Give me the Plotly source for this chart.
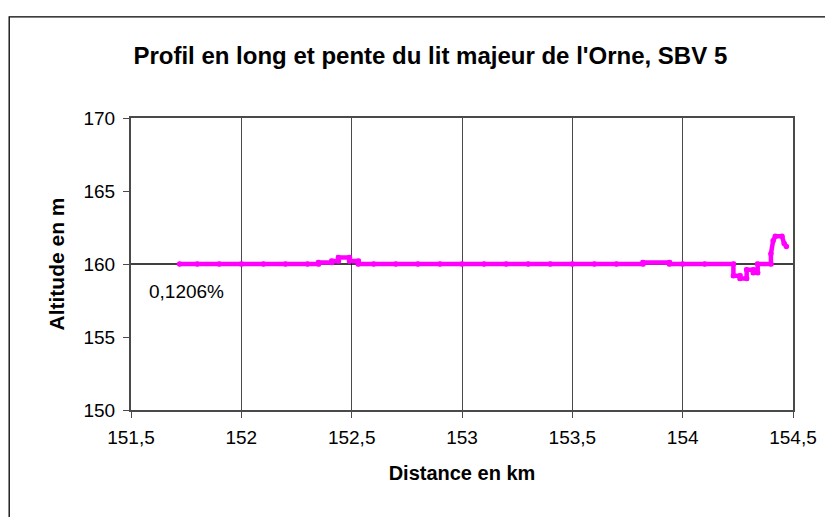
import plotly.graph_objects as go

# Longitudinal profile (distance km, altitude m)
distance_km = [151.72, 151.80, 151.90, 152.00, 152.10, 152.20, 152.30, 152.35, 152.35,
               152.41, 152.41, 152.44, 152.44, 152.49, 152.49, 152.53, 152.53, 152.60,
               152.70, 152.80, 152.90, 153.00, 153.10, 153.20, 153.30, 153.40, 153.50,
               153.60, 153.70, 153.82, 153.82, 153.94, 153.94, 154.00, 154.10, 154.23,
               154.23, 154.26, 154.26, 154.29, 154.29, 154.32, 154.32, 154.34, 154.34,
               154.40, 154.40, 154.41, 154.42, 154.45, 154.46, 154.47]
altitude_m = [160.0, 160.0, 160.0, 160.0, 160.0, 160.0, 160.0, 160.0, 160.1,
              160.1, 160.2, 160.2, 160.45, 160.45, 160.2, 160.2, 160.0, 160.0,
              160.0, 160.0, 160.0, 160.0, 160.0, 160.0, 160.0, 160.0, 160.0,
              160.0, 160.0, 160.0, 160.1, 160.1, 160.0, 160.0, 160.0, 160.0,
              159.2, 159.2, 159.0, 159.0, 159.6, 159.6, 159.4, 159.4, 160.0,
              160.0, 160.7, 161.6, 161.9, 161.9, 161.4, 161.2]

# Slope trend line
trend_x = [151.5, 154.5]
trend_y = [160.0, 160.0]
slope_label = "0,1206%"

x_ticks = [151.5, 152, 152.5, 153, 153.5, 154, 154.5]
x_tick_labels = ["151,5", "152", "152,5", "153", "153,5", "154", "154,5"]
y_ticks = [150, 155, 160, 165, 170]

FONT = "Liberation Sans, Arial, sans-serif"

fig = go.Figure()
fig.add_trace(go.Scatter(x=trend_x, y=trend_y, mode="lines",
                         line=dict(color="black", width=1.3), showlegend=False))
fig.add_trace(go.Scatter(x=distance_km, y=altitude_m, mode="lines+markers",
                         line=dict(color="#FF00FF", width=4.5),
                         marker=dict(color="#FF00FF", size=5.5),
                         showlegend=False))

fig.add_annotation(x=151.572, y=158.15, xref="x", yref="y", text=slope_label,
                   showarrow=False, xanchor="left", yanchor="middle",
                   font=dict(family=FONT, size=19, color="black"))

# outer chart border
fig.add_shape(type="rect", xref="paper", yref="paper",
              x0=-0.184, x1=1.2, y0=-0.5, y1=1.346,
              line=dict(color="black", width=1.3), fillcolor="rgba(0,0,0,0)",
              layer="below")

fig.update_layout(
    width=833, height=517,
    margin=dict(l=123, r=48, t=110, b=115),
    paper_bgcolor="white", plot_bgcolor="white",
    title=dict(text="<b>Profil en long et pente du lit majeur de l'Orne, SBV 5</b>",
               x=0.507, xref="container", xanchor="center", y=1 - 48 / 517,
               yref="container", yanchor="middle",
               font=dict(family=FONT, size=24, color="black")),
    font=dict(family=FONT, size=19, color="black"),
)
fig.update_xaxes(range=[151.5, 154.5], tickvals=x_ticks, ticktext=x_tick_labels,
                 showgrid=True, gridcolor="#4a4a4a", gridwidth=1,
                 showline=True, linecolor="#4a4a4a", linewidth=2, mirror=True,
                 ticks="outside", ticklen=6, tickcolor="#4a4a4a",
                 ticklabelstandoff=3,
                 tickfont=dict(family=FONT, size=19),
                 title=dict(text="<b>Distance en km</b>", standoff=19,
                            font=dict(family=FONT, size=20)),
                 zeroline=False)
fig.update_yaxes(range=[150, 170], tickvals=y_ticks,
                 showgrid=False,
                 showline=True, linecolor="#4a4a4a", linewidth=2, mirror=True,
                 ticks="outside", ticklen=6, tickcolor="#4a4a4a",
                 ticklabelstandoff=4,
                 tickfont=dict(family=FONT, size=19),
                 title=dict(text="<b>Altitude en m</b>", standoff=13,
                            font=dict(family=FONT, size=21)),
                 zeroline=False)

fig.write_html("out.html")
